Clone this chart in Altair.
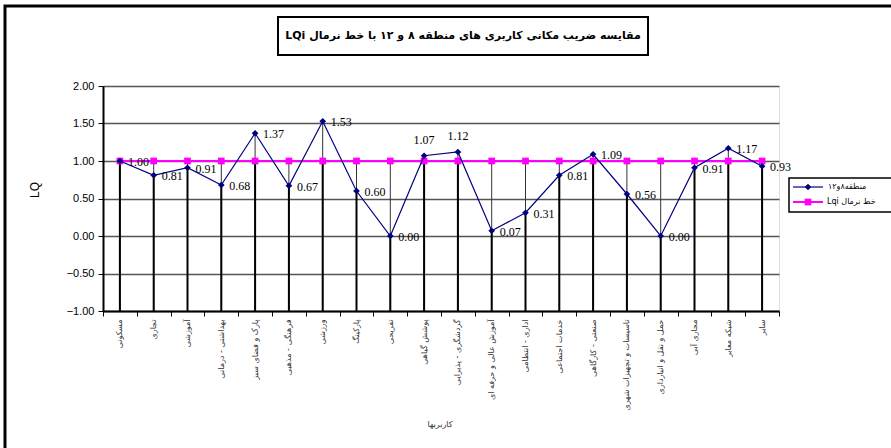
import json
import altair as alt
import pandas as pd

categories = [
    "مسکونی", "تجاری", "آموزشی", "بهداشتی - درمانی", "پارک و فضای سبز",
    "فرهنگی - مذهبی", "ورزشی", "پارکینگ", "تفریحی", "پوشش گیاهی",
    "گردشگری - پذیرایی", "آموزش عالی و حرفه ای", "اداری - انتظامی",
    "خدمات اجتماعی", "صنعتی - کارگاهی", "تاسیسات و تجهیزات شهری",
    "حمل و نقل و انبارداری", "مجاری آبی", "شبکه معابر", "سایر",
]
values = [1.00, 0.81, 0.91, 0.68, 1.37, 0.67, 1.53, 0.60, 0.00, 1.07,
          1.12, 0.07, 0.31, 0.81, 1.09, 0.56, 0.00, 0.91, 1.17, 0.93]
normal = [1.00, 1.00, 1.00, 1.00, 1.00, 1.00, 1.00, 1.00, 1.00, 1.00,
          1.00, 1.00, 1.00, 1.00, 1.00, 1.00, 1.00, 1.00, 1.00, 1.00]
y_ticks = [-1.0, -0.5, 0.0, 0.5, 1.0, 1.5, 2.0]
above_labels = ["پوشش گیاهی", "گردشگری - پذیرایی"]

series_name = "منطقه۸و۱۲"
normal_name = "Lqi خط نرمال"
title_text = "LQi مقایسه ضریب مکانی کاربری های منطقه ۸ و ۱۲ با خط نرمال"
y_title = "LQ"
x_title = "کاربریها"

df = pd.DataFrame({"cat": categories, "v": values, "n": normal})
one = pd.DataFrame({"a": [0]})

W, H = 676, 225

xaxis = alt.Axis(title=None, labelAngle=-90, labelFont="DejaVu Sans",
                 labelFontSize=8, labelColor="#333", labelPadding=3,
                 tickBand="extent", tickSize=5, tickColor="black",
                 tickWidth=1, domainColor="black", domainWidth=2,
                 labelLimit=200)
xscale = alt.Scale(type="band", paddingInner=0, paddingOuter=0)
xenc = alt.X("cat:N", sort=categories, scale=xscale, axis=xaxis)
yscale = alt.Scale(domain=[-1, 2], nice=False, zero=False)
yaxis = alt.Axis(title=None, values=y_ticks, labelOverlap=False,
                 format=".2f", labelFont="Liberation Sans",
                 labelFontSize=11, labelColor="black", tickSize=5,
                 tickColor="black", domainColor="black",
                 domainWidth=2, gridColor="#555", gridWidth=1.5,
                 labelPadding=4)


def Y(field):
    return alt.Y(field, scale=yscale, axis=yaxis)


above_expr = "indexof(" + json.dumps(above_labels, ensure_ascii=False) + ", datum.cat)"

base = alt.Chart(df).transform_calculate(
    lo="min(datum.v, datum.n)", hi="max(datum.v, datum.n)", bot="-1",
    above=above_expr + " >= 0"
)

drop_hi = base.mark_rule(color="#333", strokeWidth=1).encode(
    x=xenc, y=Y("bot:Q"), y2="hi:Q")
drop_lo = base.mark_rule(color="black", strokeWidth=2).encode(
    x=xenc, y=Y("bot:Q"), y2="lo:Q")

normal_line = base.mark_line(color="#FF00FF", strokeWidth=2).encode(
    x=xenc, y=Y("n:Q"))
normal_pts = base.mark_point(shape="square", filled=True, color="#FF00FF",
                             size=45, opacity=1).encode(
    x=xenc, y=Y("n:Q"))

val_line = base.mark_line(color="#000080", strokeWidth=1.2).encode(
    x=xenc, y=Y("v:Q"))
val_pts = base.mark_point(shape="diamond", filled=True, color="#000080",
                          size=45, opacity=1).encode(
    x=xenc, y=Y("v:Q"))

lbl_right = base.transform_filter("!datum.above").mark_text(
    align="left", baseline="middle", dx=8, dy=1,
    font="Liberation Serif", fontSize=12, color="black").encode(
    x=xenc, y=Y("v:Q"), text=alt.Text("v:Q", format=".2f"))
lbl_above = base.transform_filter("datum.above").mark_text(
    align="center", baseline="bottom", dy=-9,
    font="Liberation Serif", fontSize=12, color="black").encode(
    x=xenc, y=Y("v:Q"), text=alt.Text("v:Q", format=".2f"))

deco = alt.Chart(one)
outer = deco.mark_rect(fill=None, stroke="black", strokeWidth=3).encode(
    x=alt.value(-98), x2=alt.value(820), y=alt.value(-80), y2=alt.value(380))
title_box = deco.mark_rect(fill="white", stroke="black", strokeWidth=2).encode(
    x=alt.value(175), x2=alt.value(545), y=alt.value(-69), y2=alt.value(-31))
title = deco.mark_text(font="DejaVu Sans", fontSize=11, fontWeight="bold",
                       color="black", align="center", baseline="middle").encode(
    x=alt.value(360), y=alt.value(-50), text=alt.value(title_text))
ytitle = deco.mark_text(font="Liberation Sans", fontSize=12, color="black",
                        angle=270, align="center", baseline="middle").encode(
    x=alt.value(-68), y=alt.value(104), text=alt.value(y_title))
xtitle = deco.mark_text(font="DejaVu Sans", fontSize=8, color="#333",
                        align="center", baseline="middle").encode(
    x=alt.value(337), y=alt.value(339), text=alt.value(x_title))

leg_box = deco.mark_rect(fill="white", stroke="black", strokeWidth=1.5).encode(
    x=alt.value(686), x2=alt.value(820), y=alt.value(92), y2=alt.value(126))
leg_l1 = deco.mark_rule(color="#000080", strokeWidth=1.2).encode(
    x=alt.value(690), x2=alt.value(720), y=alt.value(101))
leg_p1 = deco.mark_point(shape="diamond", filled=True, color="#000080",
                         size=45, opacity=1).encode(
    x=alt.value(705), y=alt.value(101))
leg_t1 = deco.mark_text(font="DejaVu Sans", fontSize=8, color="black",
                        align="left", baseline="middle").encode(
    x=alt.value(725), y=alt.value(101), text=alt.value(series_name))
leg_l2 = deco.mark_rule(color="#FF00FF", strokeWidth=2).encode(
    x=alt.value(690), x2=alt.value(720), y=alt.value(116))
leg_p2 = deco.mark_point(shape="square", filled=True, color="#FF00FF",
                         size=45, opacity=1).encode(
    x=alt.value(705), y=alt.value(116))
leg_t2 = deco.mark_text(font="DejaVu Sans", fontSize=8, color="black",
                        align="left", baseline="middle").encode(
    x=alt.value(724), y=alt.value(116), text=alt.value(normal_name))

chart = alt.layer(
    drop_hi, drop_lo, normal_line, normal_pts, val_line, val_pts,
    lbl_right, lbl_above,
    outer, title_box, title, ytitle, xtitle,
    leg_box, leg_l1, leg_p1, leg_t1, leg_l2, leg_p2, leg_t2,
).properties(
    width=W, height=H,
    autosize=alt.AutoSizeParams(type="none"),
    padding={"left": 103, "top": 86, "right": 112, "bottom": 137},
).configure_view(
    stroke="black", strokeWidth=2
).configure(background="white")

chart.save("out.html", embed_options={"renderer": "svg", "actions": False})
